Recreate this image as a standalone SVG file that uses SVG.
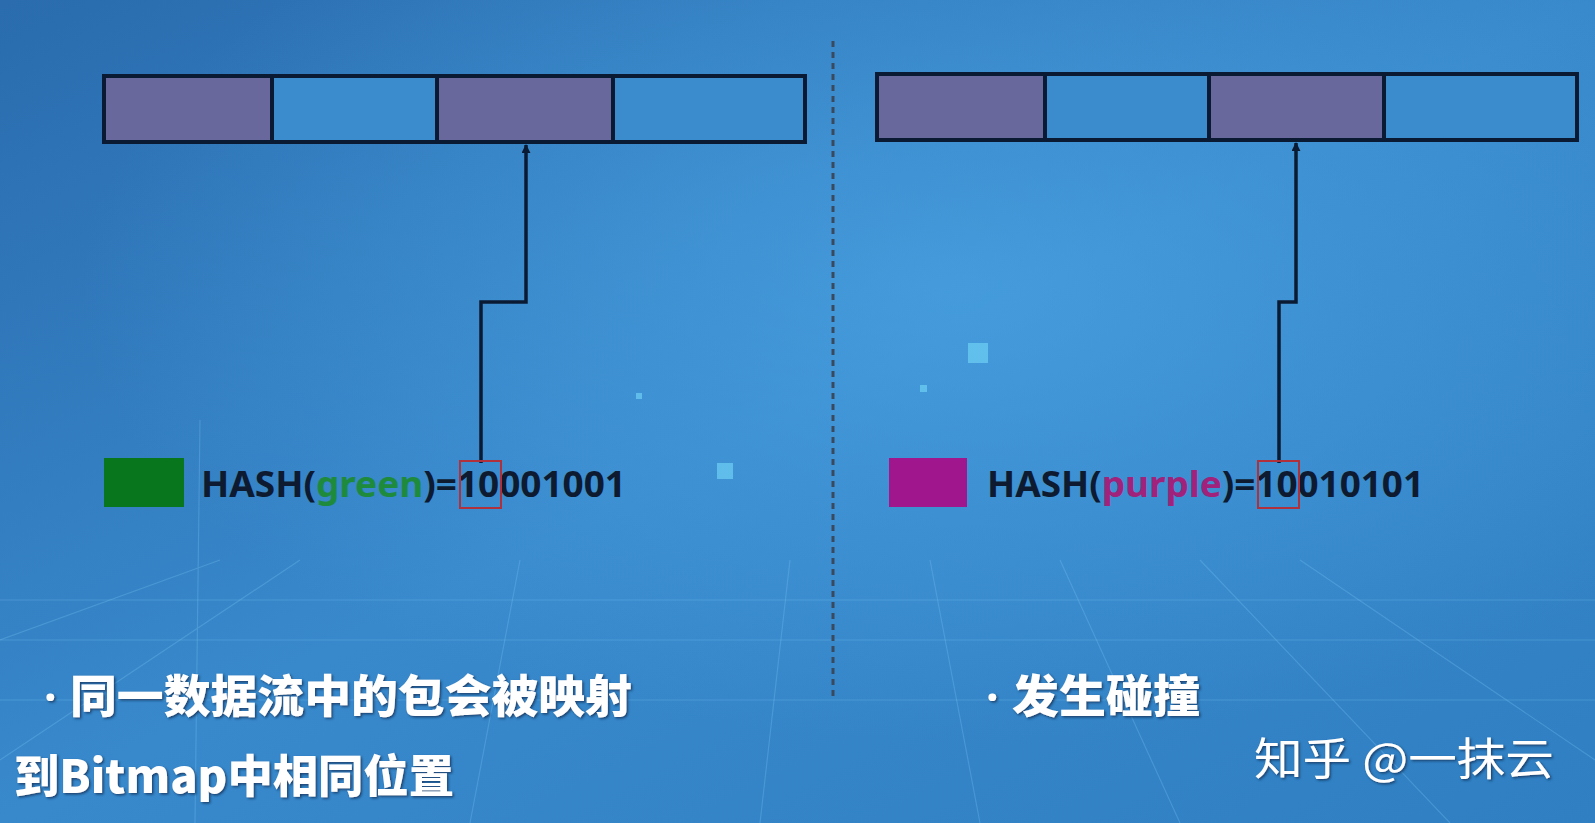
<svg xmlns="http://www.w3.org/2000/svg" width="1595" height="823" viewBox="0 0 1595 823">
<defs>
<linearGradient id="bg" x1="0" y1="0" x2="1" y2="1">
<stop offset="0" stop-color="#2a6cae"/>
<stop offset="0.5" stop-color="#3889cc"/>
<stop offset="1" stop-color="#2f7fc2"/>
</linearGradient>
<radialGradient id="glow" cx="0.6" cy="0.35" r="0.55">
<stop offset="0" stop-color="#4aa3e2" stop-opacity="0.7"/>
<stop offset="1" stop-color="#4aa3e2" stop-opacity="0"/>
</radialGradient>
<marker id="arr" viewBox="0 0 10 10" refX="9" refY="5" markerWidth="9" markerHeight="9" orient="auto" markerUnits="userSpaceOnUse">
<path d="M0,0 L10,5 L0,10 Z" fill="#0b1a33"/>
</marker>
<filter id="sh" x="-10%" y="-20%" width="120%" height="140%">
<feDropShadow dx="1.5" dy="1.5" stdDeviation="1.2" flood-color="#123a66" flood-opacity="0.9"/>
</filter>
</defs>
<style>
.cellp{fill:#68689c;stroke:#0b1a33;stroke-width:4}
.cellb{fill:#3b8ccc;stroke:#0b1a33;stroke-width:4}
.conn{fill:none;stroke:#0b1a33;stroke-width:3.5}
.hash{font-family:"Noto Sans","Open Sans","Liberation Sans",sans-serif;font-weight:bold;font-size:36px;fill:#0d1a30}
.redbox{fill:none;stroke:#b0303c;stroke-width:2}
.cap{font-family:"Noto Sans CJK SC","Noto Sans",sans-serif;font-weight:900;font-size:45px;fill:#ffffff;filter:url(#sh)}
.dot{font-family:"Noto Sans","Liberation Sans",sans-serif;font-weight:bold;font-size:45px;fill:#ffffff;filter:url(#sh)}
.wm{font-family:"Noto Sans CJK SC","Noto Sans",sans-serif;font-weight:400;font-size:44px;fill:#ffffff;filter:url(#sh)}
.grid{stroke:#7cc4f2;stroke-width:1.2;opacity:0.3;fill:none}
.spark{fill:#6fd0f5;opacity:0.7}
</style>
<rect width="1595" height="823" fill="url(#bg)"/>
<rect width="1595" height="823" fill="url(#glow)"/>
<g id="background-grid">
<path class="grid" d="M195,823 L200,420 M470,823 L520,560 M760,823 L790,560 M980,823 L930,560 M1180,823 L1060,560 M1450,823 L1200,560 M1595,760 L1300,560 M0,760 L300,560 M0,640 L220,560"/>
<path class="grid" d="M0,700 L1595,700 M0,640 L1595,640 M0,600 L1595,600"/>
<rect class="spark" x="968" y="343" width="20" height="20"/>
<rect class="spark" x="717" y="463" width="16" height="16"/>
<rect class="spark" x="920" y="385" width="7" height="7"/>
<rect class="spark" x="636" y="393" width="6" height="6"/>
</g>
<line id="divider" x1="833" y1="41" x2="833" y2="697" stroke="#3a4a5e" stroke-width="3" stroke-dasharray="6,5"/>
<g id="bitmap-left">
<rect class="cellp" x="104" y="76" width="168" height="66"/>
<rect class="cellb" x="272" y="76" width="165" height="66"/>
<rect class="cellp" x="437" y="76" width="176" height="66"/>
<rect class="cellb" x="613" y="76" width="192" height="66"/>
</g>
<g id="bitmap-right">
<rect class="cellp" x="877" y="74" width="168" height="66"/>
<rect class="cellb" x="1045" y="74" width="164" height="66"/>
<rect class="cellp" x="1209" y="74" width="175" height="66"/>
<rect class="cellb" x="1384" y="74" width="193" height="66"/>
</g>
<g id="connectors">
<path class="conn" d="M481,463 L481,302 L526,302 L526,145" marker-end="url(#arr)"/>
<path class="conn" d="M1279,463 L1279,302 L1296,302 L1296,143" marker-end="url(#arr)"/>
</g>
<g id="hash-green">
<rect x="104" y="458" width="80" height="49" fill="#08761c"/>
<text class="hash" x="201" y="497" textLength="425" lengthAdjust="spacingAndGlyphs">HASH(<tspan fill="#1d8a3c">green</tspan>)=10001001</text>
<rect class="redbox" x="460" y="461" width="41" height="47"/>
</g>
<g id="hash-purple">
<rect x="889" y="458" width="78" height="49" fill="#a0168c"/>
<text class="hash" x="987" y="497" textLength="437" lengthAdjust="spacingAndGlyphs">HASH(<tspan fill="#a0227a">purple</tspan>)=10010101</text>
<rect class="redbox" x="1258" y="461" width="41" height="47"/>
</g>
<g id="caption-left">
<text class="dot" x="44" y="713">·</text>
<text class="cap" x="70" y="713" textLength="562" lengthAdjust="spacingAndGlyphs">同一数据流中的包会被映射</text>
<text class="cap" x="14" y="793" textLength="440" lengthAdjust="spacingAndGlyphs">到Bitmap中相同位置</text>
</g>
<g id="caption-right">
<text class="dot" x="986" y="713">·</text>
<text class="cap" x="1012" y="713" textLength="188" lengthAdjust="spacingAndGlyphs">发生碰撞</text>
</g>
<text id="watermark" class="wm" x="1254" y="775" textLength="300" lengthAdjust="spacingAndGlyphs">知乎 @一抹云</text>
</svg>
